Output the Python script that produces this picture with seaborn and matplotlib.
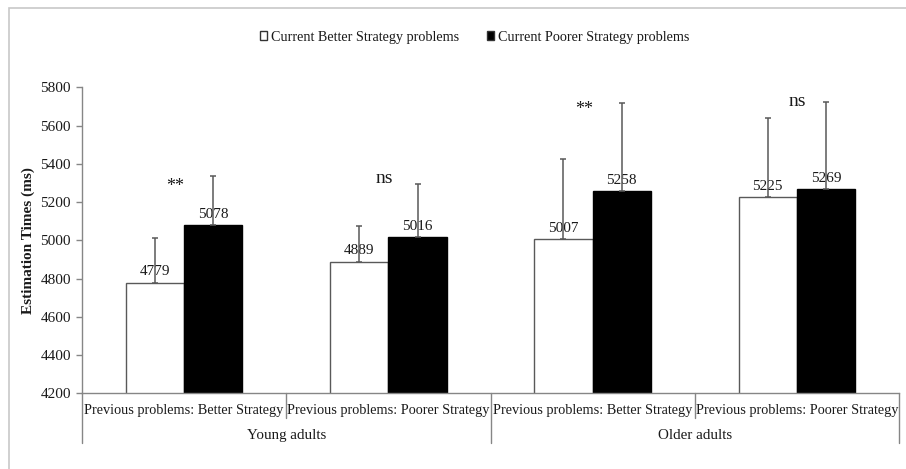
import matplotlib
matplotlib.use("Agg")
import matplotlib.pyplot as plt
from matplotlib.patches import Rectangle
import numpy as np
import pandas as pd
import seaborn as sns

age_groups = ["Young adults", "Older adults"]
previous = ["Previous problems: Better Strategy", "Previous problems: Poorer Strategy"]
conditions = ["Young-Better", "Young-Poorer", "Older-Better", "Older-Poorer"]
cond_labels = previous * 2
current = ["Current Better Strategy problems", "Current Poorer Strategy problems"]

better_means = [4779, 4889, 5007, 5225]
poorer_means = [5078, 5016, 5258, 5269]
better_err = [235, 186, 420, 413]
poorer_err = [258, 280, 462, 453]

sig_labels = ["**", "ns", "**", "ns"]
sig_y = [5258, 5300, 5660, 5702]

df = pd.DataFrame({
    "condition": conditions * 2,
    "current": [current[0]] * 4 + [current[1]] * 4,
    "rt": better_means + poorer_means,
    "err": better_err + poorer_err,
})

sns.set_style("white")
plt.rcParams["font.family"] = ["Liberation Serif", "DejaVu Serif"]
plt.rcParams["text.color"] = "#1a1a1a"

fig = plt.figure(figsize=(9.06, 4.69), dpi=100)
ax = fig.add_axes([82 / 906, 1 - 393.3 / 469, 817 / 906, 306 / 469])

sns.barplot(data=df, x="condition", y="rt", hue="current", order=conditions,
            hue_order=current, palette=["white", "black"], width=0.571,
            errorbar=None, edgecolor="#595959", linewidth=1, ax=ax)

# black bars get a black edge
for patch in ax.containers[1]:
    patch.set_edgecolor("black")

# value labels and one-sided error bars
for cont, errs in zip(ax.containers, [better_err, poorer_err]):
    xs = [p.get_x() + p.get_width() / 2 for p in cont]
    hs = [p.get_height() for p in cont]
    for x, h in zip(xs, hs):
        ax.annotate(f"{h:.0f}", (x, h), xytext=(0, 3), textcoords="offset points",
                    ha="center", va="bottom", fontsize=11, color="#1a1a1a")
    ax.errorbar(xs, hs, yerr=[np.zeros(len(errs)), errs], fmt="none",
                ecolor="#595959", elinewidth=1.1, capsize=2.5, capthick=1.1, zorder=5)

sig_dx = [-0.046, -0.022, -0.043, 0.0]
for i, (lab, y) in enumerate(zip(sig_labels, sig_y)):
    ax.text(i + sig_dx[i], y, lab, ha="center", va="baseline",
            fontsize=13 if lab == "**" else 14, color="#1a1a1a")

ax.set_ylim(4200, 5800)
ax.set_xlim(-0.5, 3.5)
ax.set_yticks(np.arange(4200, 5801, 200))
ax.tick_params(axis="y", which="major", left=True, length=4, width=1,
               color="#868686", labelsize=11, labelcolor="#1a1a1a", pad=4)
ax.set_xticks([])
ax.set_xlabel("")
ax.set_ylabel("Estimation Times (ms)", fontsize=11, fontweight="bold", color="#1a1a1a")
ax.yaxis.set_label_coords(-0.058, 0.5)

for side in ["top", "right"]:
    ax.spines[side].set_visible(False)
for side in ["left", "bottom"]:
    ax.spines[side].set_color("#868686")
    ax.spines[side].set_linewidth(1)

# hierarchical x axis
trans = ax.get_xaxis_transform()
for xs, y0 in [(-0.5, -0.1624), (0.5, -0.0807), (1.5, -0.1624), (2.5, -0.0807), (3.5, -0.1624)]:
    ax.plot([xs, xs], [0, y0], color="#868686", lw=1, transform=trans, clip_on=False)
for i, lab in enumerate(cond_labels):
    ax.text(i, -0.057, lab, ha="center", va="center", fontsize=10.3,
            transform=trans, color="#1a1a1a")
for j, lab in enumerate(age_groups):
    ax.text(2 * j + 0.5, -0.1386, lab, ha="center", va="center", fontsize=10.8,
            transform=trans, color="#1a1a1a")

sns.move_legend(ax, "center", bbox_to_anchor=(0.524, 0.921),
                bbox_transform=fig.transFigure, ncol=2, frameon=False, title=None,
                fontsize=10.2, handlelength=0.5, handleheight=0.5,
                handletextpad=0.25, columnspacing=2.0)
leg = ax.get_legend()
for h in leg.legend_handles:
    h.set_edgecolor("#333333")

# outer frame of the original chart area
fig.add_artist(Rectangle((9 / 906, -0.1), 1.2, 1 - 8 / 469 + 0.1,
                         transform=fig.transFigure, fill=False,
                         edgecolor="#c8c8c8", lw=1.2))

fig.savefig("out.png", dpi=100)
